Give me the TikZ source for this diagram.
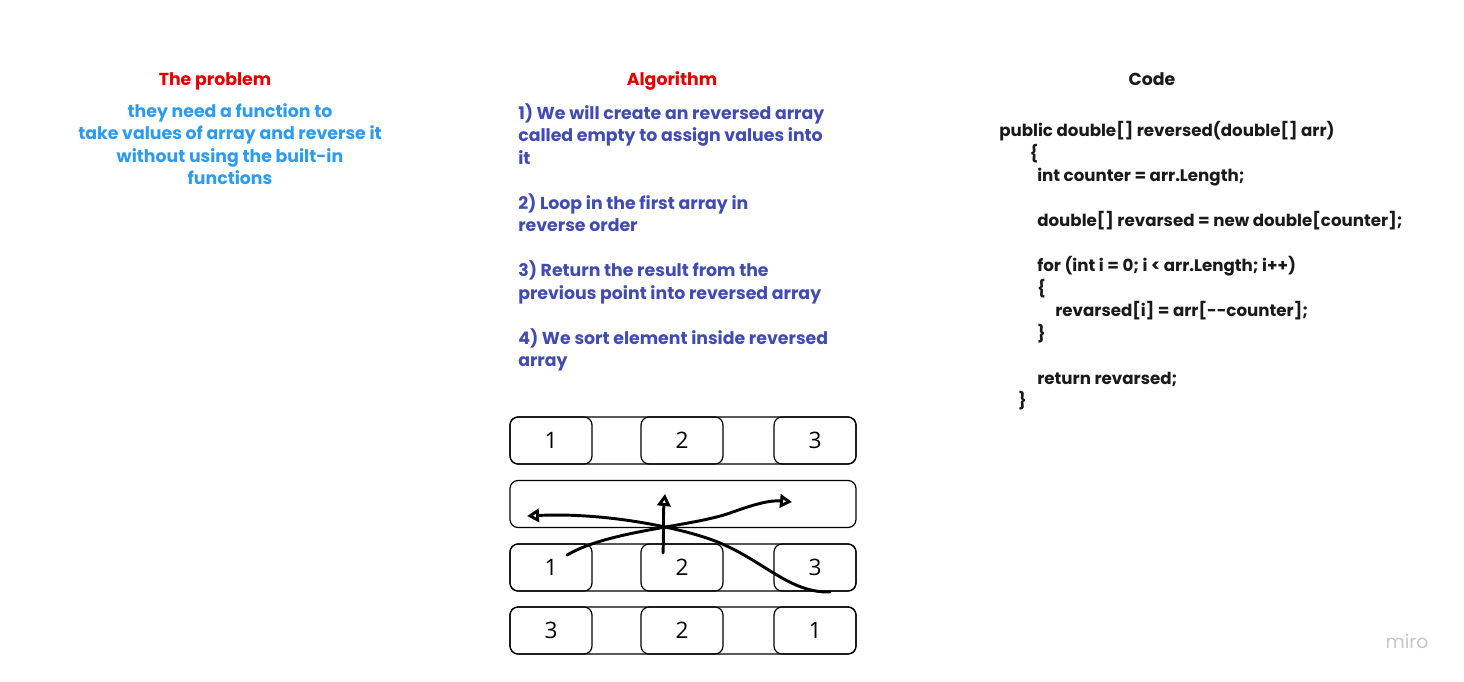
\documentclass[tikz,border=0pt]{standalone}
\usepackage{fontspec}
\setmainfont{Poppins}
\newfontfamily\cellfont{Open Sans}
\usetikzlibrary{arrows.meta, positioning, calc}
\usepackage{xcolor}
\definecolor{probred}{RGB}{226,0,0}
\definecolor{probblue}{RGB}{45,155,240}
\definecolor{algblue}{RGB}{65,75,178}
\definecolor{codeblack}{RGB}{26,26,26}
\newcommand{\parafont}{\bfseries\fontsize{13}{16.875}\selectfont\lineskiplimit=-20pt\relax}
\newcommand{\codefont}{\bfseries\fontsize{12.5}{16.875}\selectfont\lineskiplimit=-20pt\relax}
\tikzstyle{title} = [font=\bfseries\fontsize{13}{16}\selectfont, inner sep=0, anchor=base]
\tikzstyle{para} = [font=\parafont, inner sep=0]
\tikzstyle{code} = [font=\codefont, inner sep=0]
\tikzstyle{rowbox} = [rectangle, rounded corners=6pt, draw=black, line width=0.9pt, minimum width=259.5pt, minimum height=35.25pt]
\tikzstyle{cellbox} = [rowbox, minimum width=61.5pt, font=\cellfont\fontsize{17}{17}\selectfont]
\tikzstyle{stroke} = [line width=2.2pt, line cap=round, line join=round, -{Triangle[open,length=9pt,width=10pt]}]

\begin{document}
\begin{tikzpicture}[x=0.75pt, y=-0.75pt]
    \useasboundingbox (0,0) rectangle (1464,682);

    % headings
    \node (probtitle) [title, text=probred] at (215,85.5) {The problem};
    \node (algtitle) [title, text=probred] at (672,85.5) {Algorithm};
    \node (codetitle) [title, text=codeblack] at (1152,85.5) {Code};

    \node (probtext) [para, text=probblue, align=center, anchor=north] at (230,103)
        {they need a function to\\take values of array and reverse it\\without using the built-in\\functions};

    \node (algtext) [para, text=algblue, align=left, anchor=north west] at (518,103)
        {1) We will create an reversed array\\called empty to assign values into\\it\\\strut\\
         2) Loop in the first array in\\reverse order\\\strut\\
         3) Return the result from the\\previous point into reversed array\\\strut\\
         4) We sort element inside reversed\\array};

    \node (codetext) [code, text=codeblack, align=left, anchor=north west] at (999,121.5)
        {public double[] reversed(double[] arr)\\
         \hspace*{23pt}\{\\
         \hspace*{28.5pt}int counter = arr.Length;\\\strut\\
         \hspace*{28.5pt}double[] revarsed = new double[counter];\\\strut\\
         \hspace*{28.5pt}for (int i = 0; i < arr.Length; i++)\\
         \hspace*{28.5pt}\{\\
         \hspace*{42pt}revarsed[i] = arr[-{}-counter];\\
         \hspace*{28.5pt}\}\\\strut\\
         \hspace*{28.5pt}return revarsed;\\
         \hspace*{14.25pt}\}};

    % arrays
    \node (tmp) [rowbox] at (683,504) {};
    \foreach \r/\y/\a/\b/\c in {src/440.5/1/2/3, loop/567.5/1/2/3, res/630.5/3/2/1} {
        \node (\r) [rowbox] at (683,\y) {};
        \node (\r1) [cellbox] at (551,\y) {\a};
        \node (\r2) [cellbox] at (682,\y) {\b};
        \node (\r3) [cellbox] at (815,\y) {\c};
    }

    % swaps
    \coordinate (fromone) at (567,555);
    \coordinate (toone) at (792,502);
    \coordinate (fromtwo) at (663,553);
    \coordinate (totwo) at (665,494);
    \coordinate (fromthree) at (830,592);
    \coordinate (tothree) at (527,516);
    \draw [stroke] (fromone) .. controls (610,530) and (690,527) .. (730,513)
        .. controls (755,504) and (770,500) .. (toone);
    \draw [stroke] (fromtwo) .. controls (664,530) and (663,515) .. (totwo);
    \draw [stroke] (fromthree) .. controls (790,593) and (765,562) .. (720,543)
        .. controls (690,530) and (610,512) .. (tothree);

    \node (logo) [font=\fontsize{14}{14}\selectfont, text=gray!45] at (1407,641) {miro};
\end{tikzpicture}
\end{document}
